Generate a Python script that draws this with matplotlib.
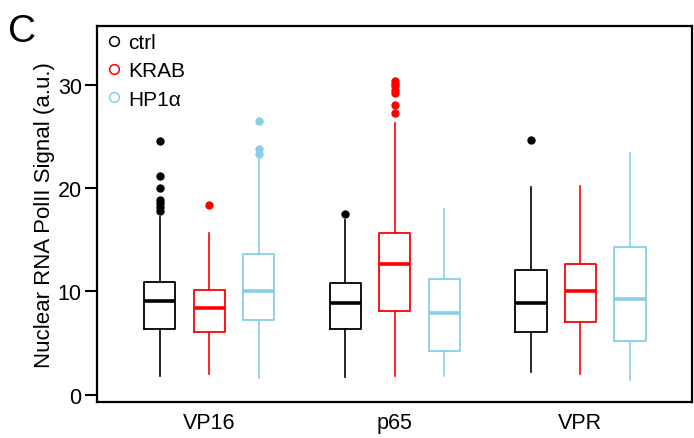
import matplotlib
matplotlib.use("Agg")
from matplotlib import pyplot as plt
from matplotlib.lines import Line2D
import numpy as np

plt.rcParams['font.family'] = ['Liberation Sans', 'DejaVu Sans']

groups = ["VP16", "p65", "VPR"]
conditions = ["ctrl", "KRAB", "HP1\u03b1"]
colors = ["black", "#ff0000", "#87ceeb"]

# box stats per group, order: ctrl, KRAB, HP1a
whislo = [[1.8, 2.0, 1.6], [1.7, 1.8, 1.8], [2.2, 2.0, 1.4]]
q1 = [[6.4, 6.1, 7.2], [6.4, 8.1, 4.2], [6.1, 7.0, 5.2]]
med = [[9.1, 8.4, 10.0], [8.9, 12.7, 7.9], [8.9, 10.0, 9.3]]
q3 = [[10.9, 10.1, 13.6], [10.8, 15.7, 11.2], [12.1, 12.7, 14.3]]
whishi = [[17.2, 15.7, 23.0], [16.9, 26.3, 18.0], [20.1, 20.2, 23.4]]
fliers = [
    [[24.6, 21.2, 20.0, 18.9, 18.6, 18.2, 17.8], [18.4], [26.5, 23.8, 23.3]],
    [[17.5], [30.4, 30.1, 29.9, 29.5, 29.2, 28.1, 27.3], []],
    [[24.7], [], []],
]

fig = plt.figure(figsize=(6.94, 4.39), dpi=100)
ax = fig.add_axes([0.1398, 0.082, 0.857, 0.8565])

group_gap = 3.75
for g in range(len(groups)):
    for c in range(len(conditions)):
        pos = 1 + g * group_gap + c
        stats = [dict(whislo=whislo[g][c], q1=q1[g][c], med=med[g][c],
                      q3=q3[g][c], whishi=whishi[g][c], fliers=fliers[g][c])]
        col = colors[c]
        ax.bxp(stats, positions=[pos], widths=0.63, showcaps=False,
               boxprops=dict(color=col, linewidth=1.3),
               whiskerprops=dict(color=col, linewidth=1.2),
               medianprops=dict(color=col, linewidth=2.6, solid_capstyle='butt'),
               flierprops=dict(marker='o', markerfacecolor=col, markeredgecolor=col,
                               markersize=5, linestyle='none'))

ax.set_xlim(-0.27, 11.75)
ax.set_ylim(-0.7, 35.7)
ax.set_xticks([1 + g * group_gap + 1 for g in range(len(groups))])
ax.set_xticklabels(groups, fontsize=15.5)
ax.tick_params(axis='x', length=0, pad=7)
ax.set_yticks([0, 10, 20, 30])
ax.tick_params(axis='y', length=9, width=1.5, labelsize=15.5, pad=2)
for s in ax.spines.values():
    s.set_linewidth(1.6)
ax.set_ylabel("Nuclear RNA PolII Signal (a.u.)", fontsize=16, labelpad=2)

handles = [Line2D([], [], marker='o', linestyle='none', markerfacecolor='none',
                  markeredgecolor=col, markersize=7, markeredgewidth=1.1)
           for col in colors]
ax.legend(handles, conditions, loc='upper left', bbox_to_anchor=(-0.012, 1.015),
          frameon=False, fontsize=15, handletextpad=0.15, labelspacing=0.45,
          handlelength=1.1, borderaxespad=0.2)

fig.text(0.012, 0.905, "C", fontsize=28)

fig.savefig("out.png", dpi=100)
